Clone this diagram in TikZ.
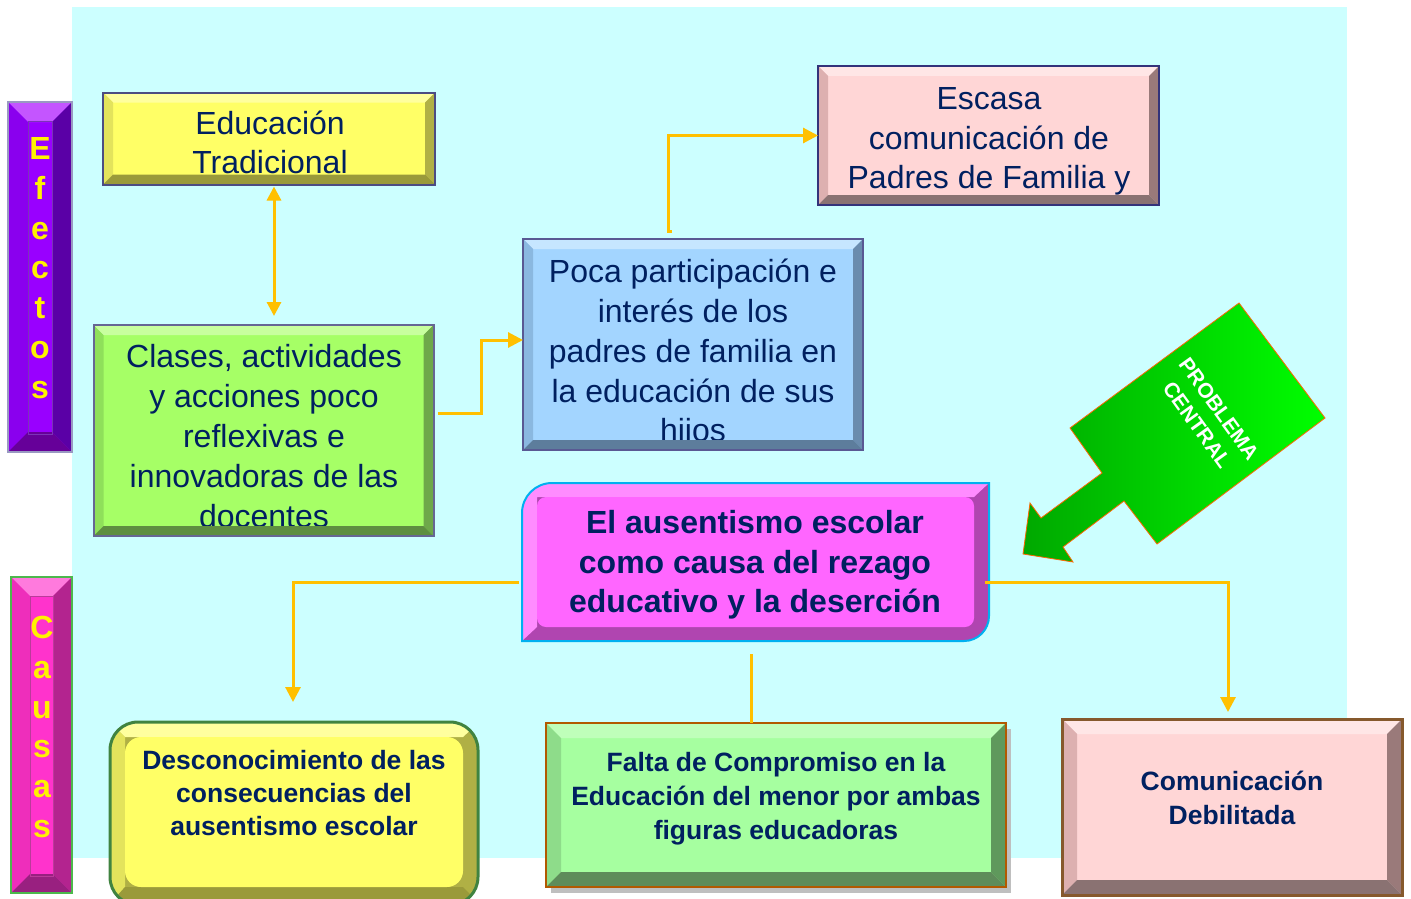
\documentclass[tikz,border=0pt]{standalone}
\usepackage{fontspec}
\setmainfont{Liberation Sans}
\usetikzlibrary{arrows.meta}
\definecolor{txt}{HTML}{002060}
\definecolor{bgc}{HTML}{CCFFFF}
\definecolor{orng}{HTML}{FFC000}
% yellow
\definecolor{yF}{HTML}{FFFF66}\definecolor{yT}{HTML}{FFFF9E}\definecolor{yL}{HTML}{E3E35C}\definecolor{yR}{HTML}{B0B045}\definecolor{yB}{HTML}{9A9A3A}
% green (Clases)
\definecolor{gF}{HTML}{A6FF66}\definecolor{gT}{HTML}{C8FF9E}\definecolor{gL}{HTML}{8FE05A}\definecolor{gR}{HTML}{6EA84A}\definecolor{gB}{HTML}{5E8E40}
% blue
\definecolor{bF}{HTML}{A3D5FF}\definecolor{bT}{HTML}{C6E6FF}\definecolor{bL}{HTML}{8AB8E0}\definecolor{bR}{HTML}{6A8CAE}\definecolor{bB}{HTML}{5D7D9C}
% pink
\definecolor{pF}{HTML}{FFD6D6}\definecolor{pT}{HTML}{FFE6E6}\definecolor{pL}{HTML}{DDB0B0}\definecolor{pR}{HTML}{9A7A7A}\definecolor{pB}{HTML}{8A7272}
% light green (Falta)
\definecolor{lF}{HTML}{A6FFA0}\definecolor{lT}{HTML}{BFFFBA}\definecolor{lL}{HTML}{8EDC8A}\definecolor{lR}{HTML}{5F995C}\definecolor{lB}{HTML}{5E8C5A}
% violet
\definecolor{vF}{HTML}{9900FF}\definecolor{vT}{HTML}{C455FF}\definecolor{vL}{HTML}{8A00EE}\definecolor{vR}{HTML}{5A00A6}\definecolor{vB}{HTML}{660099}
% magenta
\definecolor{mF}{HTML}{FF33CC}\definecolor{mT}{HTML}{FF7ADD}\definecolor{mL}{HTML}{EE2EBB}\definecolor{mR}{HTML}{B3248F}\definecolor{mB}{HTML}{992080}
% central
\definecolor{cF}{HTML}{FF66FF}\definecolor{cT}{HTML}{FF8CFF}\definecolor{cD}{HTML}{B045B0}\definecolor{cBd}{HTML}{00B0F0}
\definecolor{gr1}{HTML}{00A800}\definecolor{gr2}{HTML}{00FF00}

% #1 node, #2 depth, #3 top, #4 left, #5 right, #6 bottom, #7 border style
\newcommand\bev[7]{%
  \fill[#3] (#1.north west) -- (#1.north east) -- ([shift={(-#2,-#2)}]#1.north east) -- ([shift={(#2,-#2)}]#1.north west) -- cycle;
  \fill[#4] (#1.north west) -- ([shift={(#2,-#2)}]#1.north west) -- ([shift={(#2,#2)}]#1.south west) -- (#1.south west) -- cycle;
  \fill[#5] (#1.north east) -- ([shift={(-#2,-#2)}]#1.north east) -- ([shift={(-#2,#2)}]#1.south east) -- (#1.south east) -- cycle;
  \fill[#6] (#1.south west) -- ([shift={(#2,#2)}]#1.south west) -- ([shift={(-#2,#2)}]#1.south east) -- (#1.south east) -- cycle;
  \draw[#7] (#1.north west) rectangle (#1.south east);
}

\begin{document}
\begin{tikzpicture}[x=1pt,y=-1pt,
  box/.style={rectangle, inner sep=0pt, outer sep=0pt},
  reg/.style={text=txt, align=center, inner sep=0pt, font=\fontsize{32}{40}\selectfont},
  bld/.style={text=txt, align=center, inner sep=0pt, font=\bfseries\fontsize{26.5}{33.5}\selectfont},
  side/.style={text=yellow, align=center, inner sep=0pt, font=\bfseries\fontsize{32}{39.8}\selectfont},
  conn/.style={draw=orng, line width=3pt},
  tip/.style={-{Triangle[length=15pt,width=15pt]}},
  tips/.style={{Triangle[length=14pt,width=14pt]}-{Triangle[length=14pt,width=14pt]}}
]
\useasboundingbox (0,0) rectangle (1411,899);
\fill[white] (0,0) rectangle (1411,899);
\fill[bgc] (72,7) rectangle (1347,858);

% ---------- Efectos ----------
\node[box, fill=vF, minimum width=64pt, minimum height=350pt] (efectos) at (40,277) {};
\bev{efectos}{20pt}{vT}{vL}{vR}{vB}{draw=black!60!blue!40, line width=1.2pt}
\draw[vR!80, line width=0.8pt] ([shift={(20pt,-19pt)}]efectos.north west) rectangle ([shift={(-20pt,18pt)}]efectos.south east);
\node[side] (efectos-t) at (40,271) {\strut E\\\strut f\\\strut e\\\strut c\\\strut t\\\strut o\\\strut s};

% ---------- Causas ----------
\node[box, fill=mF, minimum width=61pt, minimum height=316pt] (causas) at (41.5,735) {};
\bev{causas}{19pt}{mT}{mL}{mR}{mB}{draw=green!60!black!70, line width=1.5pt}
\draw[mR!90, line width=0.8pt] ([shift={(19pt,-19pt)}]causas.north west) rectangle ([shift={(-19pt,17pt)}]causas.south east);
\node[side] (causas-t) at (42,730) {\strut C\\\strut a\\\strut u\\\strut s\\\strut a\\\strut s};

% ---------- Educacion Tradicional ----------
\node[box, fill=yF, minimum width=332pt, minimum height=92pt] (edu) at (269,138.5) {};
\node[reg, font=\fontsize{32}{39}\selectfont] (edu-t) at (270,146.5) {\strut Educación\\\strut Tradicional};
\bev{edu}{10pt}{yT}{yL}{yR}{yB}{draw=blue!30!black!70, line width=2pt}

% ---------- Clases ----------
\node[box, fill=gF, minimum width=340pt, minimum height=211pt] (clases) at (263.5,430.5) {};
\node[reg] (clases-t) at (264,439.5) {\strut Clases, actividades\\\strut y acciones poco\\\strut reflexivas e\\\strut innovadoras de las\\\strut docentes};
\bev{clases}{10pt}{gT}{gL}{gR}{gB}{draw=blue!30!black!60, line width=2pt}

% ---------- Poca participacion ----------
\node[box, fill=bF, minimum width=340pt, minimum height=211pt] (poca) at (693,344.5) {};
\node[reg, font=\fontsize{32}{39.75}\selectfont] (poca-t) at (693,354.5) {\strut Poca participación e\\\strut interés de los\\\strut padres de familia en\\\strut la educación de sus\\\strut hijos};
\bev{poca}{10pt}{bT}{bL}{bR}{bB}{draw=blue!35!black!65, line width=2pt}

% ---------- Escasa comunicacion ----------
\node[box, fill=pF, minimum width=341pt, minimum height=139pt] (escasa) at (988.5,135.5) {};
\node[reg, font=\fontsize{32}{39.5}\selectfont] (escasa-t) at (989,141.5) {\strut Escasa\\\strut comunicación de\\\strut Padres de Familia y};
\bev{escasa}{10pt}{pT}{pL}{pR}{pB}{draw=blue!35!black!80, line width=2pt}

% ---------- Central problem ----------
\node[box, minimum width=467pt, minimum height=158pt] (central) at (755.5,562) {};
\begin{scope}
\clip (552,483) -- (989,483) -- (989,616) arc[start angle=0, end angle=-90, radius=25pt] -- (522,641) -- (522,513) arc[start angle=180, end angle=90, radius=30pt] -- cycle;
\fill[cD] (510,475) rectangle (1000,650);
\fill[cT] (522,641) -- (537,627) -- (537,497) -- (974,497) -- (989,483) -- (510,475) -- cycle;
\end{scope}
\fill[cF, rounded corners=9pt] (537,497) rectangle (974,627);
\draw[cBd, line width=2pt] (552,483) -- (989,483) -- (989,616) arc[start angle=0, end angle=-90, radius=25pt] -- (522,641) -- (522,513) arc[start angle=180, end angle=90, radius=30pt] -- cycle;
\node[bld, font=\bfseries\fontsize{32}{39.5}\selectfont] (central-t) at (755,565.5) {\strut El ausentismo escolar\\\strut como causa del rezago\\\strut educativo y la deserción};

% ---------- Problema central arrow ----------
\shadedraw[left color=gr1, right color=gr2, draw=orange!80!red, line width=0.8pt]
  (1239,303) -- (1325,418) -- (1157,544) -- (1124,501) -- (1063,547) -- (1073,562)
  -- (1023,554) -- (1030,503) -- (1041,518) -- (1102,473) -- (1070,428) -- cycle;
\node[text=white, align=center, inner sep=0pt, rotate=-54.2, font=\bfseries\fontsize{21}{27}\selectfont] (pc-t) at (1208,417) {PROBLEMA\\CENTRAL};

% ---------- Desconocimiento ----------
\node[box, minimum width=368pt, minimum height=183pt] (desc) at (294,813.5) {};
\begin{scope}
\clip[rounded corners=28pt] (110,722) rectangle (478,905);
\fill[yR] (100,712) rectangle (490,915);
\fill[yT] (100,712) -- (490,712) -- (463,737) -- (125,737) -- cycle;
\fill[yL] (100,712) -- (125,737) -- (125,887) -- (100,915) -- cycle;
\fill[yB] (100,915) -- (125,887) -- (463,887) -- (490,915) -- cycle;
\end{scope}
\fill[yF, rounded corners=16pt] (125,737) rectangle (463,887);
\draw[green!35!black!75, line width=3pt, rounded corners=28pt] (110,722) rectangle (478,905);
\node[bld, font=\bfseries\fontsize{26.5}{33}\selectfont] (desc-t) at (294,795.5) {\strut Desconocimiento de las\\\strut consecuencias del\\\strut ausentismo escolar};

% ---------- Falta de compromiso ----------
\fill[black!25] (551,729) rectangle (1011,893);
\node[box, fill=lF, minimum width=460pt, minimum height=164pt] (falta) at (776,805) {};
\node[bld, font=\bfseries\fontsize{26.5}{34}\selectfont] (falta-t) at (776,798.5) {\strut Falta de Compromiso en la\\\strut Educación del menor por ambas\\\strut figuras educadoras};
\bev{falta}{15pt}{lT}{lL}{lR}{lB}{draw=orange!70!black, line width=2pt}

% ---------- Comunicacion debilitada ----------
\node[box, fill=pF, minimum width=340pt, minimum height=176pt] (com) at (1232,807) {};
\node[bld, font=\bfseries\fontsize{26.5}{34}\selectfont] (com-t) at (1232,800.5) {\strut Comunicación\\\strut Debilitada};
\bev{com}{15pt}{pT}{pL}{pR}{pB}{draw=brown!70!black, line width=3pt}

% ---------- Connectors ----------
\draw[conn, tips] ([xshift=5pt,yshift=-2pt]edu.south) -- ([xshift=10.5pt,yshift=9pt]clases.north);
\draw[conn, tip] ([shift={(4pt,17.5pt)}]clases.east) -- ++(44,0) |- ([yshift=4.5pt]poca.west);
\draw[conn, tip] ([shift={(-21pt,8pt)}]poca.north) -- ++(-4,0) |- (escasa.west);
\draw[conn, tip] ([shift={(-3pt,-20pt)}]central.west) -| ([shift={(-1pt,20pt)}]desc.north);
\draw[conn, tip] ([shift={(-4pt,-20pt)}]central.east) -| ([shift={(-4pt,7pt)}]com.north);
\draw[conn] ([shift={(-4.5pt,-13pt)}]central.south) -- ([xshift=-25pt]falta.north);
\end{tikzpicture}
\end{document}
